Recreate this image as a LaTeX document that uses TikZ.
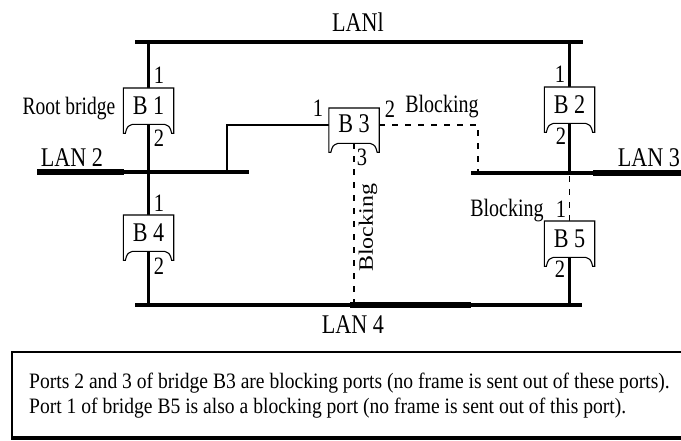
\documentclass[tikz,border=0pt]{standalone}
\usepackage{fontspec}
\setmainfont{Liberation Serif}
\usepackage{graphicx}
\usetikzlibrary{calc}
\pgfdeclarelayer{bg}
\pgfsetlayers{bg,main}
\newcommand\sqz[2]{\scalebox{#1}[1]{#2}}
\newcommand\bridgeoutline[1]{%
  \filldraw[bridgeline] (#1.north west) -- (#1.north east) -- (#1.south east)
    -- ($(#1.south east)+(-2,0)$) .. controls ($(#1.south east)+(-4,-7)$) .. ($(#1.south east)+(-9,-9)$)
    -- ($(#1.south west)+(9,-9)$) .. controls ($(#1.south west)+(4,-7)$) .. ($(#1.south west)+(2,0)$)
    -- (#1.south west) -- cycle;}
\begin{document}
\begin{tikzpicture}[x=1pt,y=-1pt,
  bridge/.style={inner sep=0pt, minimum width=50pt, text height=26pt, text depth=19pt,
    anchor=north, font=\fontsize{27}{30}\selectfont},
  bridgeline/.style={draw=black, fill=white, line width=1.1pt},
  port/.style={anchor=base, inner sep=0pt, font=\fontsize{25}{28}\selectfont},
  lbl/.style={anchor=base, inner sep=0pt, font=\fontsize{25}{28}\selectfont},
  lanlbl/.style={anchor=base, inner sep=0pt, font=\fontsize{27}{30}\selectfont},
  lan/.style={line width=3.5pt},
  lanthick/.style={line width=6pt},
  link/.style={line width=2.3pt},
  thinlink/.style={line width=1.6pt},
  blocked/.style={line width=1.8pt, dash pattern=on 6pt off 7pt},
  note/.style={anchor=base west, inner sep=0pt, font=\fontsize{22}{24}\selectfont}]
\useasboundingbox (0,0) rectangle (681,441);

% LAN coordinates
\coordinate (l1w) at (135,42);  \coordinate (l1e) at (583,42);
\coordinate (l2w) at (37,172);  \coordinate (l2m) at (124,172); \coordinate (l2e) at (249,172);
\coordinate (l3w) at (471,173); \coordinate (l3m) at (593,173); \coordinate (l3e) at (681,173);
\coordinate (l4w) at (135,305); \coordinate (l4a) at (350,305); \coordinate (l4b) at (471,305); \coordinate (l4e) at (582,305);
\coordinate (t2) at (227,172);
\coordinate (t3) at (478,173);

% bridges
\node[bridge] (b1) at (148.5,88)  {\sqz{0.82}{B 1}};
\node[bridge] (b4) at (148.5,215) {\sqz{0.82}{B 4}};
\node[bridge] (b2) at (569.5,87)  {\sqz{0.82}{B 2}};
\node[bridge] (b5) at (569.5,221) {\sqz{0.82}{B 5}};
\node[bridge, text height=24pt, text depth=20pt] (b3) at (354,108) {\sqz{0.82}{B 3}};

% labels
\node[lanlbl] (lanone) at (358,32) {\sqz{0.82}{LANl}};
\node[lanlbl] (lantwo) at (72,167) {\sqz{0.82}{LAN 2}};
\node[lanlbl] (lanthree) at (649,167) {\sqz{0.82}{LAN 3}};
\node[lanlbl] (lanfour) at (353,333) {\sqz{0.82}{LAN 4}};
\node[lbl] (root) at (69,115) {\sqz{0.78}{Root bridge}};
\node[lbl] (blk1) at (442,113) {\sqz{0.8}{Blocking}};
\node[lbl] (blk2) at (507,217) {\sqz{0.8}{Blocking}};
\node[inner sep=0pt, rotate=90, font=\fontsize{24}{26}\selectfont] (blk3) at (368,228) {\scalebox{1}[0.85]{Blocking}};

% port numbers
\node[port] (p11) at (159,84)  {\sqz{0.82}{1}};
\node[port] (p12) at (159,147) {\sqz{0.82}{2}};
\node[port] (p41) at (159,212) {\sqz{0.82}{1}};
\node[port] (p42) at (159,275) {\sqz{0.82}{2}};
\node[port] (p21) at (560,83)  {\sqz{0.82}{1}};
\node[port] (p22) at (561,145) {\sqz{0.82}{2}};
\node[port] (p51) at (561,218) {\sqz{0.82}{1}};
\node[port] (p52) at (560,278) {\sqz{0.82}{2}};
\node[port] (p31) at (318,117) {\sqz{0.82}{1}};
\node[port] (p32) at (390,118) {\sqz{0.82}{2}};
\node[port] (p33) at (362,166) {\sqz{0.82}{3}};

% note box
\coordinate (fTL) at (12,352); \coordinate (fTR) at (681,352);
\coordinate (fBL) at (12,438); \coordinate (fBR) at (681,438);
\draw[line width=1.5pt] (fTR) -- (fTL) -- (fBL);
\draw[line width=4pt] ($(fBL)+(-1,0)$) -- (fBR);
\node[note] (n1) at (29,388) {\sqz{0.89}{Ports 2 and 3 of bridge B3 are blocking ports (no frame is sent out of these ports).}};
\node[note] (n2) at (29,413) {\sqz{0.89}{Port 1 of bridge B5 is also a blocking port (no frame is sent out of this port).}};

\begin{pgfonlayer}{bg}
  % LANs
  \draw[lan] (l1w) -- (l1e);
  \draw[lanthick] (l2w) -- (l2m);
  \draw[line width=4pt] (l2m) -- (l2e);
  \draw[line width=4pt] (l3w) -- (l3m);
  \draw[line width=6.5pt] (l3m) -- (l3e);
  \draw[lan] (l4w) -- (l4e);
  \draw[line width=5.5pt] (l4a) -- (l4b);
  % connectors
  \draw[link] (b1.center) -- (b1.center |- l1w);
  \draw[link] (b1.center) -- (b1.center |- l2w);
  \draw[link] (b4.center) -- (b4.center |- l2w);
  \draw[link] (b4.center) -- (b4.center |- l4w);
  \draw[link] (b2.center) -- (b2.center |- l1w);
  \draw[link] (b2.center) -- (b2.center |- l3w);
  \draw[blocked] (b5.north) -- (b5.north |- l3w);
  \draw[link] (b5.center) -- (b5.center |- l4w);
  \draw[thinlink] ($(b3.north west)!0.38!(b3.south west)$) -| (t2);
  \draw[blocked] ($(b3.north east)!0.38!(b3.south east)$) -| (t3);
  \draw[blocked] (b3.center) -- (b3.center |- l4w);
  % bridge outlines
  \bridgeoutline{b1}
  \bridgeoutline{b2}
  \bridgeoutline{b3}
  \bridgeoutline{b4}
  \bridgeoutline{b5}
\end{pgfonlayer}
\end{tikzpicture}
\end{document}
